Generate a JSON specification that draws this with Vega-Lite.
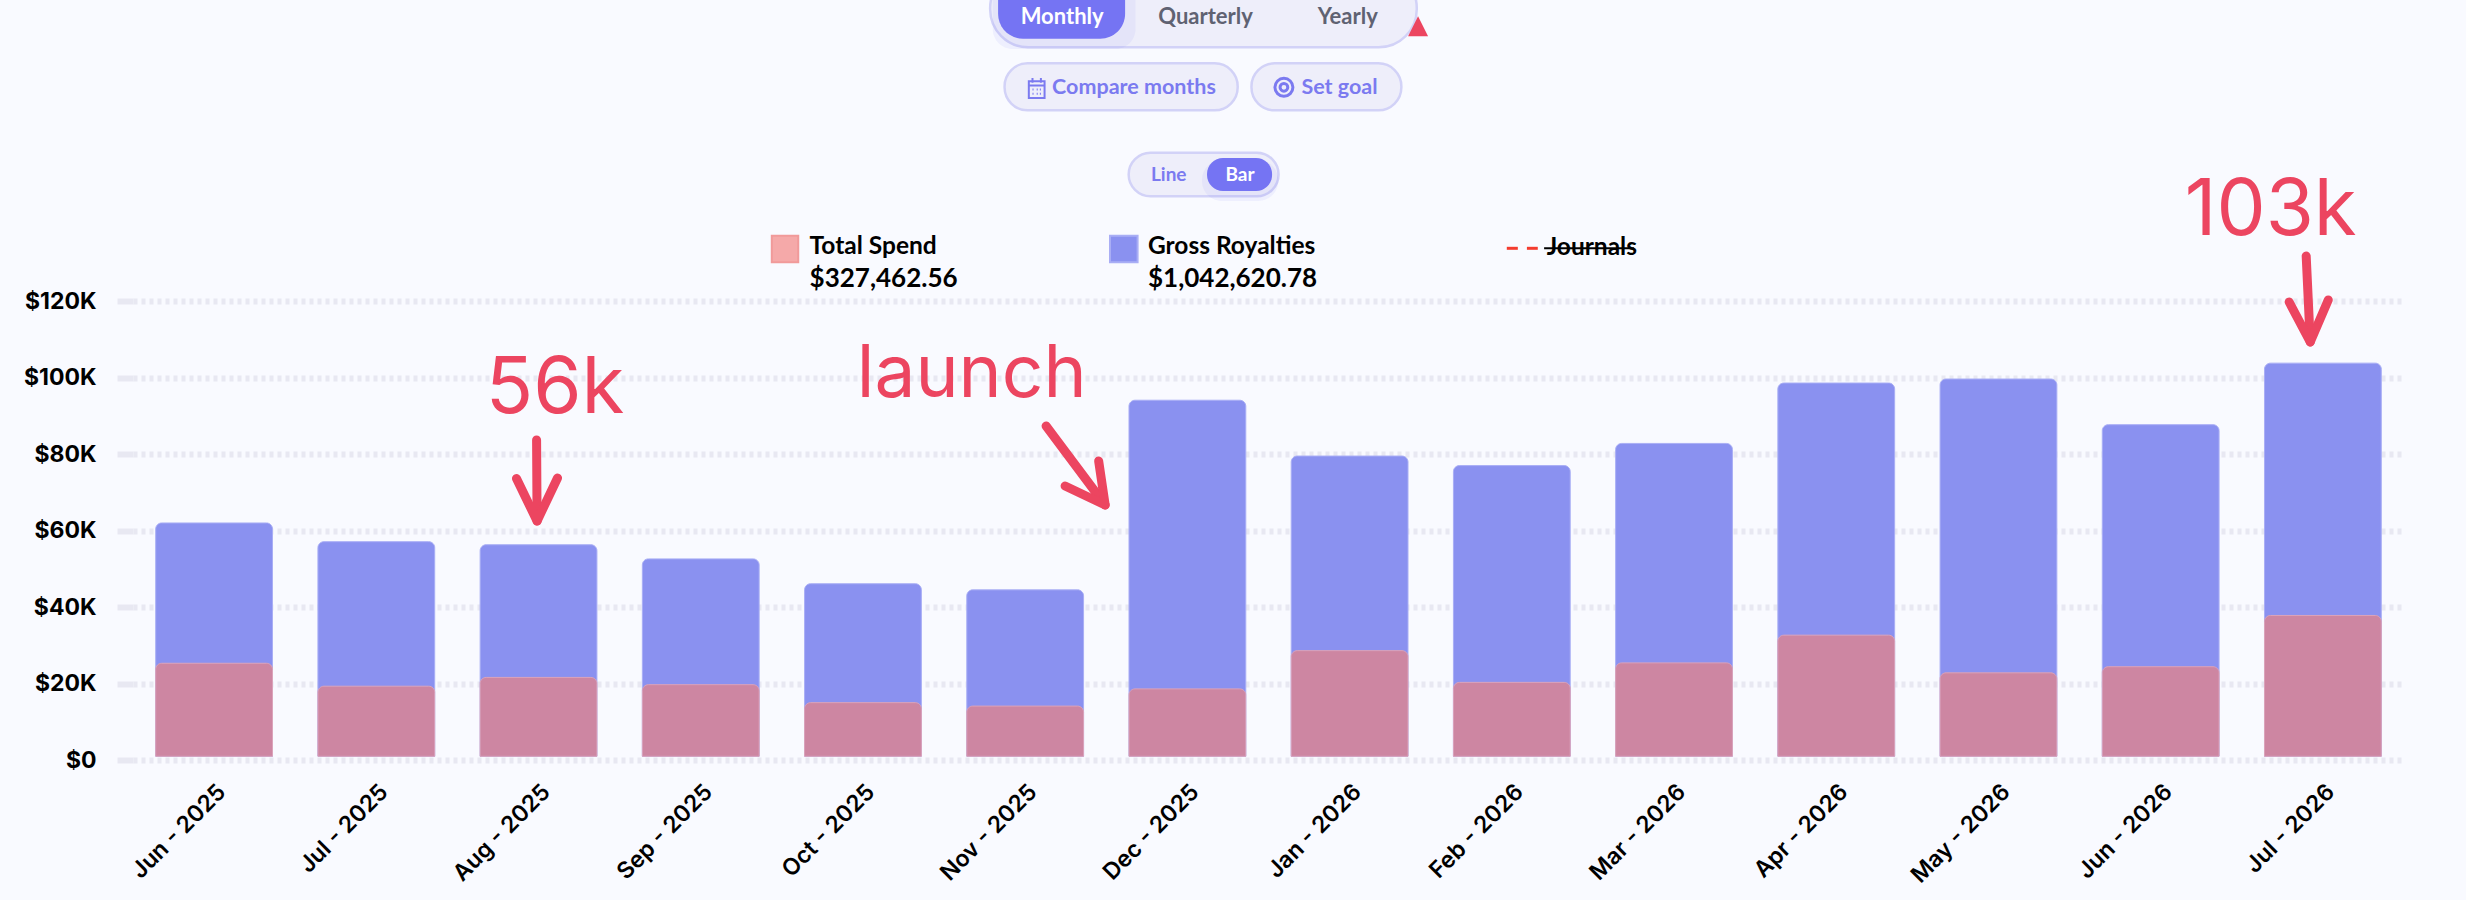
{
"$schema":"https://vega.github.io/schema/vega-lite/v6.json",
"width":2271,"height":760,
"autosize":{"type":"none"},
"padding":{"left":133,"top":0,"right":62,"bottom":140},
"background":"#F9FAFF",
"view":{"stroke":null},
"config":{"text":{"font":"Lato"}},
"resolve":{"scale":{"x":"independent"},"axis":{"x":"independent"}},
"layer":[
{"data":{"values":[
{"month":"Jun - 2025","gross":62000,"spend":25300},
{"month":"Jul - 2025","gross":57100,"spend":19300},
{"month":"Aug - 2025","gross":56300,"spend":21600},
{"month":"Sep - 2025","gross":52600,"spend":19700},
{"month":"Oct - 2025","gross":46100,"spend":15000},
{"month":"Nov - 2025","gross":44500,"spend":14100},
{"month":"Dec - 2025","gross":94100,"spend":18600},
{"month":"Jan - 2026","gross":79500,"spend":28600},
{"month":"Feb - 2026","gross":77000,"spend":20300},
{"month":"Mar - 2026","gross":82800,"spend":25400},
{"month":"Apr - 2026","gross":98600,"spend":32650},
{"month":"May - 2026","gross":99650,"spend":22800},
{"month":"Jun - 2026","gross":87700,"spend":24400},
{"month":"Jul - 2026","gross":103800,"spend":37800}
]},
"encoding":{"x":{"field":"month","type":"nominal","sort":null,"title":null,
 "scale":{"paddingInner":0.28,"paddingOuter":0.14},
 "axis":{"labelAngle":-45,"labelFont":"Inter","labelFontWeight":600,"labelFontSize":23,"labelColor":"#000000","ticks":false,"domain":false,"grid":false,"labelPadding":28,"labelOffset":8,"labelAlign":"right","labelBaseline":"middle","labelOverlap":false}}},
"layer":[
{"mark":{"type":"bar","fill":"#8A91F0","stroke":"#A9AEF5","strokeWidth":1,"cornerRadiusTopLeft":6,"cornerRadiusTopRight":6},
 "encoding":{"y":{"field":"gross","type":"quantitative","title":null,
   "scale":{"domain":[0,198780],"nice":false},
   "axis":{"values":[0,20000,40000,60000,80000,100000,120000],"labelExpr":"datum.value===0?'$0':'$'+datum.value/1000+'K'","labelFont":"Inter","labelFontWeight":700,"labelFontSize":23,"labelColor":"#000000","labelPadding":21,"tickSize":16,"tickColor":"#E8E8F2","tickWidth":6,"domain":false,"grid":true,"gridColor":"#E8E8F2","gridWidth":6,"gridDash":[4,4]}},
  "y2":{"datum":970}}},
{"mark":{"type":"bar","fill":"#CD86A2","stroke":"#DBA3BA","strokeWidth":1,"cornerRadiusTopLeft":6,"cornerRadiusTopRight":6},
 "encoding":{"y":{"field":"spend","type":"quantitative"},"y2":{"datum":970}}}
]},
{"encoding":{"x":{"field":"m","type":"quantitative","scale":{"domain":[-0.5,13.5],"nice":false,"zero":false},"axis":null},
 "y":{"field":"v","type":"quantitative"}},
"layer":[
{"data":{"values":[
 {"item":"Period tabs","m":4.784,"m2":7.414,"v":206625,"v2":186407}
 ]},
 "mark":{"type":"rect","fill":"#EEEEFA","stroke":"#D2D2F7","strokeWidth":2.5,"cornerRadius":38},
 "encoding":{"x2":{"field":"m2"},"y2":{"field":"v2"}}},
{"data":{"values":[
 {"item":"Compare months","m":4.873,"m2":6.310,"v":182221,"v2":169929},
 {"item":"Set goal","m":6.395,"m2":7.319,"v":182221,"v2":169929},
 {"item":"Chart type","m":5.638,"m2":6.562,"v":158839,"v2":147436}
 ]},
 "mark":{"type":"rect","fill":"#EEEEFA","stroke":"#D2D2F7","strokeWidth":2.5,"cornerRadius":23},
 "encoding":{"x2":{"field":"m2"},"y2":{"field":"v2"}}},
{"data":{"values":[
 {"item":"Monthly glow","m":4.80,"m2":5.68,"v":206625,"v2":185962},
 {"item":"Bar glow","m":6.09,"m2":6.56,"v":156930,"v2":146205}
 ]},
 "mark":{"type":"rect","fill":"#7574F3","opacity":0.08,"cornerRadius":20},
 "encoding":{"x2":{"field":"m2"},"y2":{"field":"v2"}}},
{"data":{"values":[
 {"item":"Monthly","m":4.833,"m2":5.616,"v":206625,"v2":188656}
 ]},
 "mark":{"type":"rect","fill":"#7574F3","cornerRadius":25},
 "encoding":{"x2":{"field":"m2"},"y2":{"field":"v2"}}},
{"data":{"values":[
 {"item":"Bar","m":6.121,"m2":6.522,"v":157453,"v2":148822}
 ]},
 "mark":{"type":"rect","fill":"#7574F3","cornerRadius":16},
 "encoding":{"x2":{"field":"m2"},"y2":{"field":"v2"}}},
{"data":{"values":[{"label":"Monthly","m":5.228,"v":194410}]},
 "mark":{"type":"text","font":"Lato","fontWeight":700,"fontSize":22,"fill":"#FFFFFF"},"encoding":{"text":{"field":"label"}}},
{"data":{"values":[{"label":"Bar","m":6.324,"v":153085}]},
 "mark":{"type":"text","font":"Lato","fontWeight":700,"fontSize":19,"fill":"#FFFFFF"},"encoding":{"text":{"field":"label"}}},
{"data":{"values":[{"label":"Quarterly","m":6.112,"v":194410},{"label":"Yearly","m":6.989,"v":194410}]},
 "mark":{"type":"text","font":"Lato","fontWeight":700,"fontSize":22,"fill":"#5F6272"},"encoding":{"text":{"field":"label"}}},
{"data":{"values":[{"label":"Compare months","m":5.671,"v":175683},{"label":"Set goal","m":6.938,"v":175683}]},
 "mark":{"type":"text","font":"Lato","fontWeight":700,"fontSize":21.5,"fill":"#7B7AF0"},"encoding":{"text":{"field":"label"}}},
{"data":{"values":[{"label":"Line","m":5.885,"v":153085}]},
 "mark":{"type":"text","font":"Lato","fontWeight":700,"fontSize":19,"fill":"#7B7AF0"},"encoding":{"text":{"field":"label"}}},
{"data":{"values":[{"item":"Calendar","m":5.071,"v":175762}]},
 "mark":{"type":"point","filled":false,"stroke":"#7B7AF0","strokeWidth":2,"opacity":1,"size":441,
  "shape":"M-0.75,-0.65H0.75V0.95H-0.75ZM-0.75,-0.25H0.75M-0.4,-0.95V-0.5M0.4,-0.95V-0.5M-0.4,0.15H-0.3M0,0.15H0.1M0.4,0.15H0.3M-0.4,0.55H-0.3M0,0.55H0.1M0.4,0.55H0.3"}},
{"data":{"values":[{"item":"Goal ring","m":6.595,"v":175945}]},
 "mark":{"type":"point","shape":"circle","filled":false,"stroke":"#7B7AF0","strokeWidth":3,"opacity":1,"size":324}},
{"data":{"values":[{"item":"Goal centre","m":6.595,"v":175945}]},
 "mark":{"type":"point","shape":"circle","filled":false,"stroke":"#7B7AF0","strokeWidth":3,"opacity":1,"size":60}},
{"data":{"values":[{"item":"Marker","m":7.422,"v":191899}]},
 "mark":{"type":"point","filled":true,"fill":"#EC4560","opacity":1,"size":400,"shape":"M0,-1L1,1L-1,1Z"}},
{"data":{"values":[{"item":"Total Spend","m":3.438,"m2":3.601,"v":137131,"v2":130173}]},
 "mark":{"type":"rect","fill":"#F5A9A9","stroke":"#F19A9A","strokeWidth":2},
 "encoding":{"x2":{"field":"m2"},"y2":{"field":"v2"}}},
{"data":{"values":[{"item":"Gross Royalties","m":5.523,"m2":5.693,"v":137131,"v2":130173}]},
 "mark":{"type":"rect","fill":"#8A91F0","stroke":"#A9AEF5","strokeWidth":2},
 "encoding":{"x2":{"field":"m2"},"y2":{"field":"v2"}}},
{"data":{"values":[
 {"label":"Total Spend","m":3.671,"v":134254},
 {"label":"Gross Royalties","m":5.757,"v":134254},
 {"label":"Journals","m":8.215,"v":133914}
 ]},
 "mark":{"type":"text","font":"Lato","fontWeight":700,"fontSize":24.5,"fill":"#000000","align":"left"},"encoding":{"text":{"field":"label"}}},
{"data":{"values":[
 {"label":"$327,462.56","m":3.671,"v":125806},
 {"label":"$1,042,620.78","m":5.757,"v":125806}
 ]},
 "mark":{"type":"text","font":"Lato","fontWeight":700,"fontSize":26,"fill":"#000000","align":"left"},"encoding":{"text":{"field":"label"}}},
{"data":{"values":[{"part":"dash 1","m":7.969,"m2":8.037,"v":133835},{"part":"dash 2","m":8.093,"m2":8.160,"v":133835}]},
 "mark":{"type":"rule","stroke":"#F43B2E","strokeWidth":3},"encoding":{"x2":{"field":"m2"}}},
{"data":{"values":[{"part":"strike","m":8.199,"m2":8.754,"v":133835}]},
 "mark":{"type":"rule","stroke":"#000000","strokeWidth":2},"encoding":{"x2":{"field":"m2"}}},
{"data":{"values":[{"label":"56k","m":2.102,"v":90758},{"label":"103k","m":12.678,"v":137314}]},
 "mark":{"type":"text","font":"Inter","fontWeight":400,"fontSize":78,"fill":"#EC4560","baseline":"alphabetic"},"encoding":{"text":{"field":"label"}}},
{"data":{"values":[{"label":"launch","m":4.670,"v":94943}]},
 "mark":{"type":"text","font":"Inter","fontWeight":400,"fontSize":73,"fill":"#EC4560","baseline":"alphabetic"},"encoding":{"text":{"field":"label"}}},
{"data":{"values":[
 {"a":"56k shaft","o":1,"m":1.988,"v":83696},{"a":"56k shaft","o":2,"m":1.991,"v":62510},
 {"a":"56k head","o":1,"m":1.864,"v":73626},{"a":"56k head","o":2,"m":1.991,"v":62510},{"a":"56k head","o":3,"m":2.117,"v":73757},
 {"a":"launch shaft","o":1,"m":5.129,"v":87358},{"a":"launch shaft","o":2,"m":5.493,"v":66695},
 {"a":"launch head","o":1,"m":5.453,"v":78203},{"a":"launch head","o":2,"m":5.493,"v":66695},{"a":"launch head","o":3,"m":5.246,"v":71665},
 {"a":"103k shaft","o":1,"m":12.897,"v":131821},{"a":"103k shaft","o":2,"m":12.922,"v":109328},
 {"a":"103k head","o":1,"m":12.792,"v":119790},{"a":"103k head","o":2,"m":12.922,"v":109328},{"a":"103k head","o":3,"m":13.033,"v":120313}
 ]},
 "mark":{"type":"line","stroke":"#EC4560","strokeWidth":9,"strokeCap":"round","strokeJoin":"round"},
 "encoding":{"detail":{"field":"a"},"order":{"field":"o"}}}
]}
]}
